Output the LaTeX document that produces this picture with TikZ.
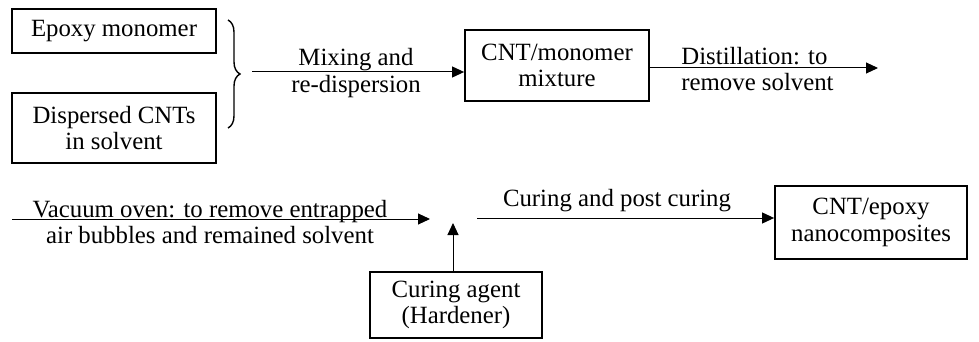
\documentclass[tikz,border=0pt]{standalone}
\usepackage{fontspec}
\setmainfont{Liberation Serif}
\usetikzlibrary{positioning,arrows.meta,decorations.pathreplacing,calc}
\tikzset{
  procbox/.style={draw, line width=0.9pt, align=center, inner sep=0pt},
  flow/.style={-{Triangle[length=6pt,width=5.5pt]}, line width=0.5pt},
  lbl/.style={align=center, inner sep=0pt}
}
\begin{document}
\begin{tikzpicture}[x=0.5pt,y=-0.5pt,font=\fontsize{12.4}{13.2}\selectfont]
  \useasboundingbox (0,0) rectangle (979,342);
  \node[procbox, minimum width=102pt, minimum height=22pt] (epx) at (114,31) {Epoxy monomer};
  \node[procbox, minimum width=102pt, minimum height=35pt] (cnt) at (114,128) {Dispersed CNTs\\in solvent};
  \node[procbox, minimum width=92pt, minimum height=35.5pt] (mix) at (557,65.5) {CNT/monomer\\mixture};
  \node[procbox, minimum width=86pt, minimum height=33pt] (hrd) at (456,305) {Curing agent\\(Hardener)};
  \node[procbox, minimum width=96pt, minimum height=36.5pt] (cmp) at (871,222.5) {CNT/epoxy\\nanocomposites};
  \draw[decorate, decoration={brace, amplitude=6pt}, line width=0.7pt] (228,20) -- (228,128);
  \coordinate (brc) at (252,72);
  \coordinate (dst) at (878,68);
  \coordinate (vac) at (12,219);
  \coordinate (mrg) at (430,219);
  \coordinate (add) at (453,223);
  \coordinate (cur) at (477,218);
  \draw[flow] (brc) -- (brc -| mix.west);
  \node[lbl] (mixlbl) at (356,73) {Mixing and\\re-dispersion};
  \draw[flow] (mix.east |- dst) -- (dst);
  \node[lbl, align=left, anchor=west] (dstlbl) at (681,69) {Distillation: to\\remove solvent};
  \draw[flow] (vac) -- (mrg);
  \node[lbl] (vaclbl) at (210,222) {Vacuum oven: to remove entrapped\\air bubbles and remained solvent};
  \draw[flow] (add |- hrd.north) -- (add);
  \draw[flow] (cur) -- (cur -| cmp.west);
  \node[lbl, anchor=south] (curlbl) at (617,212) {Curing and post curing};
\end{tikzpicture}
\end{document}
